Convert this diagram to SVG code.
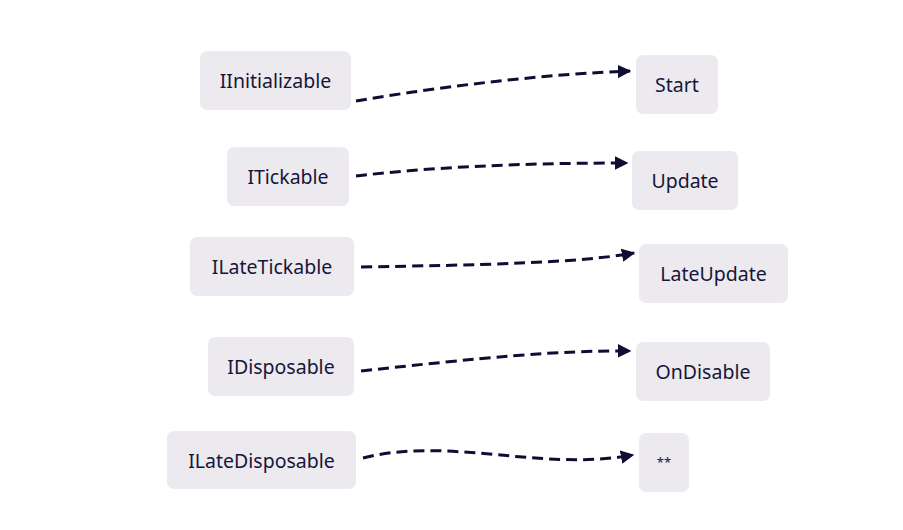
<svg xmlns="http://www.w3.org/2000/svg" width="903" height="530" viewBox="0 0 903 530">
<style>
.box{fill:#ECEAEE;}
.lbl{font-family:"Noto Sans","Open Sans",sans-serif;font-size:19.5px;fill:#16163a;text-anchor:middle;dominant-baseline:central;}
.edge{fill:none;stroke:#0e0d33;stroke-width:3;stroke-dasharray:11 6;}
</style>
<defs>
<marker id="ah" viewBox="0 0 10 10" refX="9" refY="5" markerWidth="4.5" markerHeight="4.5" markerUnits="strokeWidth" orient="auto">
<path d="M0,0 L10,5 L0,10 z" fill="#0e0d33"/>
</marker>
</defs>
<rect width="903" height="530" fill="#fff"/>
<g id="n-iinit"><rect class="box" x="200" y="51" width="151" height="59" rx="7"/><text class="lbl" x="275.5" y="80.5">IInitializable</text></g>
<g id="n-start"><rect class="box" x="636" y="55" width="82" height="59" rx="7"/><text class="lbl" x="677" y="84.5">Start</text></g>
<g id="n-itick"><rect class="box" x="227" y="147" width="122" height="59" rx="7"/><text class="lbl" x="288" y="176.5">ITickable</text></g>
<g id="n-update"><rect class="box" x="632" y="151" width="106" height="59" rx="7"/><text class="lbl" x="685" y="180.5">Update</text></g>
<g id="n-ilatetick"><rect class="box" x="190" y="237" width="164" height="59" rx="7"/><text class="lbl" x="272" y="266.5">ILateTickable</text></g>
<g id="n-lateupdate"><rect class="box" x="639" y="244" width="149" height="59" rx="7"/><text class="lbl" x="713.5" y="273.5">LateUpdate</text></g>
<g id="n-idisp"><rect class="box" x="208" y="337" width="146" height="59" rx="7"/><text class="lbl" x="281" y="366.5">IDisposable</text></g>
<g id="n-ondisable"><rect class="box" x="636" y="342" width="134" height="59" rx="7"/><text class="lbl" x="703" y="371.5">OnDisable</text></g>
<g id="n-ilatedisp"><rect class="box" x="167" y="431" width="189" height="58" rx="7"/><text class="lbl" x="261.5" y="460">ILateDisposable</text></g>
<g id="n-star"><rect class="box" x="639" y="433" width="50" height="59" rx="7"/><text class="lbl" x="664" y="462" style="font-size:13px">**</text></g>
<g id="edges">
<path class="edge" marker-end="url(#ah)" d="M356,101 C450,85 550,74 630,71"/>
<path class="edge" marker-end="url(#ah)" d="M356,176 C450,165 550,163 627,163"/>
<path class="edge" marker-end="url(#ah)" d="M361,267 C480,265 580,263 634,253"/>
<path class="edge" marker-end="url(#ah)" d="M361,371 C480,358 560,350 630,351"/>
<path class="edge" marker-end="url(#ah)" d="M363,458 C450,436 540,472 633,455"/>
</g>
</svg>
